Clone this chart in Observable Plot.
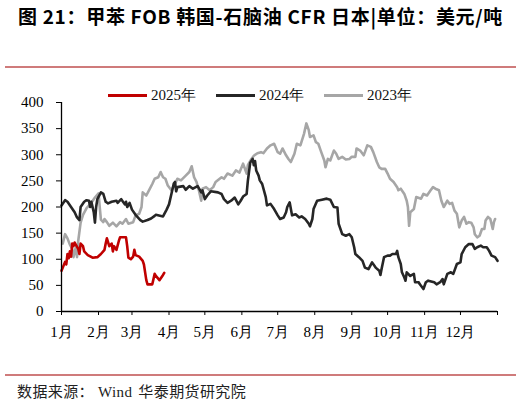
<!DOCTYPE html>
<html><head><meta charset="utf-8">
<script src="https://cdn.jsdelivr.net/npm/d3@7"></script>
<script src="https://cdn.jsdelivr.net/npm/@observablehq/plot@0.6"></script>
<style>
body{margin:0;background:#fff;width:521px;height:405px;position:relative;overflow:hidden;}
#title{position:absolute;left:0;top:3px;width:521px;text-align:center;font-family:"Noto Sans CJK SC",sans-serif;font-weight:bold;font-size:19px;line-height:26px;color:#000;white-space:nowrap;letter-spacing:0.7px;}
.rule{position:absolute;left:5px;width:511px;height:2px;background:#cf7b7b;}
#chart{position:absolute;left:0;top:80px;}
#legend{position:absolute;left:108px;top:86px;display:flex;align-items:center;font-family:"Liberation Serif",serif;font-size:15px;color:#111;z-index:2;}
.item{display:flex;align-items:center;margin-right:20px;}
.swatch{width:39px;height:3px;margin-right:4px;}
#source{position:absolute;left:17px;top:381px;font-family:"Noto Sans CJK SC",sans-serif;font-size:15px;line-height:20px;color:#222;white-space:nowrap;letter-spacing:0.4px;}
#source .w{font-family:"Liberation Serif",serif;margin:0 6px 0 4px;}
</style></head><body>
<div id="title">图 21：甲苯 FOB 韩国-石脑油 CFR 日本|单位：美元/吨</div>
<div class="rule" style="top:66px"></div>
<div id="chart"></div>
<div id="legend"></div>
<div class="rule" style="top:374px"></div>
<div id="source">数据来源：<span class="w">Wind</span>华泰期货研究院</div>
<script>
const months = ["1月","2月","3月","4月","5月","6月","7月","8月","9月","10月","11月","12月"];
const monthStarts = [0,31,59,90,120,151,181,212,243,273,304,334,365];
const yTicks = [0,50,100,150,200,250,300,350,400];
const seriesNames = ["2025年","2024年","2023年"];
const seriesColors = ["#c00000","#262626","#a6a6a6"];

const days2025 = [0,3,4,5,6,7,8,9,10,11,14,15,16,18,19,22,26,30,33,36,37,38,40,42,43,44,46,48,49,54,55,56,58,60,61,62,65,68,69,71,72,76,78,79,82,85,86];
const vals2025 = [78,95,90,110,102,115,105,130,125,132,120,110,130,125,115,108,103,104,110,118,130,140,125,130,115,125,118,135,142,142,125,103,100,105,118,108,105,97,90,60,52,52,72,68,60,70,74];

const days2024 = [0,3,5,8,11,13,15,16,19,21,23,24,25,27,28,29,30,33,35,37,39,42,46,47,50,53,54,55,57,59,62,66,68,72,75,78,79,85,88,90,92,94,95,96,97,102,104,107,110,114,117,118,120,122,125,131,134,136,139,142,145,148,150,152,155,156,158,160,161,162,163,165,166,168,171,172,175,178,181,183,186,188,189,191,193,196,199,201,204,207,208,210,211,214,218,222,225,228,231,232,235,238,241,243,245,246,249,252,254,257,260,263,266,267,268,270,273,275,277,280,281,282,284,285,287,288,289,292,295,296,299,300,303,305,307,312,314,317,319,320,323,326,328,331,334,335,338,341,344,346,348,351,353,356,358,360,363,365];
const vals2024 = [203,213,210,200,190,180,175,200,210,213,212,200,210,190,170,200,215,228,225,210,207,210,212,208,215,205,210,200,208,195,185,175,172,175,178,183,185,182,195,205,225,245,248,230,238,240,233,240,235,240,228,232,215,222,230,228,225,215,208,212,218,205,212,220,225,250,285,292,280,288,270,260,251,244,219,203,206,196,184,177,180,190,200,209,184,186,180,182,177,168,163,177,196,212,214,216,214,200,199,168,148,145,148,142,123,110,104,97,84,81,94,84,78,70,82,104,107,107,110,110,116,104,91,75,65,59,75,68,72,56,56,52,43,56,59,56,52,56,62,52,72,75,72,91,94,110,123,129,129,120,123,126,123,123,116,107,104,97];

const days2023 = [1,3,5,7,9,10,12,13,14,16,18,21,25,28,31,32,33,35,36,38,40,43,46,49,51,54,56,60,62,65,67,68,71,74,76,78,81,83,85,87,89,92,95,97,100,104,107,109,111,113,115,117,118,121,124,127,129,134,136,139,143,146,149,152,155,156,159,161,164,167,169,172,175,178,181,183,185,188,190,192,195,197,200,203,205,207,208,211,213,215,217,220,221,223,225,228,230,232,235,238,241,243,246,247,250,253,254,256,259,261,264,266,268,271,273,275,278,281,282,284,287,289,290,291,292,295,297,301,303,306,309,311,313,316,318,320,323,325,327,329,331,333,335,337,339,341,343,345,346,348,350,352,354,355,357,359,361,362,363];
const vals2023 = [130,148,140,128,120,104,123,104,135,170,185,198,208,218,226,200,176,171,177,171,164,170,163,171,168,177,168,171,184,187,200,228,222,235,244,254,257,267,257,254,241,232,244,254,251,260,267,278,257,248,232,212,235,238,232,238,248,257,254,264,260,270,266,283,264,280,292,298,303,305,303,312,318,321,305,302,312,299,292,286,302,321,318,340,360,347,334,337,324,321,308,289,276,292,289,308,302,292,296,291,292,296,296,312,308,299,305,318,315,305,286,276,273,273,264,254,248,238,232,235,225,212,200,164,190,196,219,216,225,222,232,238,235,232,212,200,212,206,208,193,187,161,174,181,168,171,170,161,148,142,145,158,158,174,181,177,158,171,177];

const data = [];
function addSeries(name, days, vals){ days.forEach((d,i)=>data.push({series:name, day:d, value:vals[i]})); }
addSeries(seriesNames[2], days2023, vals2023);
addSeries(seriesNames[1], days2024, vals2024);
addSeries(seriesNames[0], days2025, vals2025);

const chart = Plot.plot({
  width:521, height:265,
  marginLeft:61, marginRight:24, marginTop:22, marginBottom:34,
  style:{background:"transparent", fontFamily:"'Liberation Serif', serif", fontSize:"15px", color:"#000", overflow:"visible"},
  x:{domain:[0,365]},
  y:{domain:[0,400]},
  color:{domain:seriesNames, range:seriesColors},
  marks:[
    Plot.axisY({ticks:yTicks, tickSize:5, tickPadding:13, label:null, fontSize:15}),
    Plot.axisX({ticks:monthStarts, tickSize:4, tickPadding:11, label:null, fontSize:15,
      tickFormat:d=>{const k=monthStarts.indexOf(d); return k<12?months[k]:"";}}),
    Plot.line(data, {x:"day", y:"value", z:"series", stroke:"series", strokeWidth:2.6, strokeLinejoin:"round"}),
    Plot.ruleY([0], {x1:0, x2:365, stroke:"#000", strokeWidth:1.3}),
    Plot.ruleX([0], {y1:0, y2:400, stroke:"#000", strokeWidth:1.3})
  ]
});
document.getElementById("chart").appendChild(chart);

const legend = document.getElementById("legend");
seriesNames.forEach((n,i)=>{
  const it = document.createElement("div"); it.className="item";
  const sw = document.createElement("div"); sw.className="swatch"; sw.style.background=seriesColors[i];
  const tx = document.createElement("span"); tx.textContent=n;
  it.appendChild(sw); it.appendChild(tx); legend.appendChild(it);
});
</script>
</body></html>
